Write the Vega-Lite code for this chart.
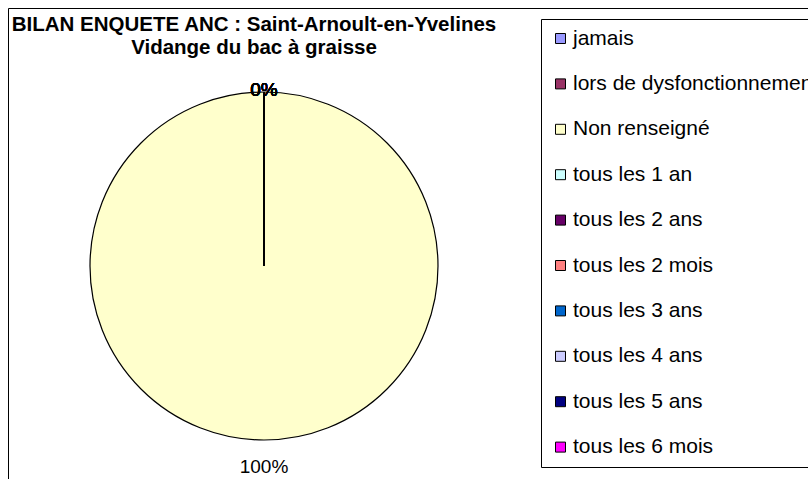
{
  "$schema": "https://vega.github.io/schema/vega-lite/v6.json",
  "width": 800,
  "height": 471,
  "autosize": {"type": "none"},
  "padding": {"left": 8, "top": 8, "right": 0, "bottom": 0},
  "background": "white",
  "view": {"stroke": "black", "strokeWidth": 1, "fill": "white"},
  "config": {
    "view": {"stroke": "black", "strokeWidth": 1},
    "font": "Liberation Sans"
  },
  "title": {
    "text": ["BILAN ENQUETE ANC : Saint-Arnoult-en-Yvelines", "Vidange du bac à graisse"],
    "font": "Liberation Sans",
    "fontSize": 20.5,
    "fontWeight": "bold",
    "color": "black",
    "anchor": "middle",
    "frame": "group",
    "dx": -154,
    "offset": -50,
    "lineHeight": 23
  },
  "data": {
    "values": [
      {"cat": "jamais", "share": 0},
      {"cat": "lors de dysfonctionnement", "share": 0},
      {"cat": "Non renseigné", "share": 1},
      {"cat": "tous les 1 an", "share": 0},
      {"cat": "tous les 2 ans", "share": 0},
      {"cat": "tous les 2 mois", "share": 0},
      {"cat": "tous les 3 ans", "share": 0},
      {"cat": "tous les 4 ans", "share": 0},
      {"cat": "tous les 5 ans", "share": 0},
      {"cat": "tous les 6 mois", "share": 0}
    ]
  },
  "encoding": {
    "theta": {"field": "share", "type": "quantitative", "stack": true},
    "color": {
      "field": "cat",
      "type": "nominal",
      "sort": null,
      "scale": {
        "domain": ["jamais", "lors de dysfonctionnement", "Non renseigné", "tous les 1 an", "tous les 2 ans", "tous les 2 mois", "tous les 3 ans", "tous les 4 ans", "tous les 5 ans", "tous les 6 mois"],
        "range": ["#9999FF", "#993366", "#FFFFCC", "#CCFFFF", "#660066", "#FF8080", "#0066CC", "#CCCCFF", "#000080", "#FF00FF"]
      },
      "legend": {
        "title": null,
        "orient": "none",
        "legendX": 533,
        "legendY": 11,
        "symbolType": "square",
        "symbolSize": 100,
        "symbolStrokeColor": "black",
        "symbolStrokeWidth": 1,
        "symbolOpacity": 1,
        "labelFont": "Liberation Sans",
        "labelFontSize": 21,
        "labelColor": "black",
        "labelLimit": 400,
        "labelOffset": 2,
        "rowPadding": 23.4,
        "padding": 9,
        "strokeColor": "black",
        "fillColor": "white"
      }
    }
  },
  "layer": [
    {
      "mark": {"type": "arc", "radius": 174, "stroke": "black", "strokeWidth": 1.2, "xOffset": -144, "yOffset": 22.5}
    },
    {
      "transform": [{"filter": "datum.share == 0"}],
      "mark": {"type": "text", "radius": 176, "fontSize": 19, "font": "Liberation Sans", "fill": "black", "xOffset": -144, "yOffset": 22.5},
      "encoding": {
        "text": {"field": "share", "type": "quantitative", "format": ".0%"},
        "color": {"value": "black"}
      }
    },
    {
      "transform": [{"filter": "datum.share > 0"}],
      "mark": {"type": "text", "radius": 201, "fontSize": 19, "font": "Liberation Sans", "fill": "black", "xOffset": -144, "yOffset": 22.5},
      "encoding": {
        "text": {"field": "share", "type": "quantitative", "format": ".0%"},
        "color": {"value": "black"}
      }
    }
  ]
}
